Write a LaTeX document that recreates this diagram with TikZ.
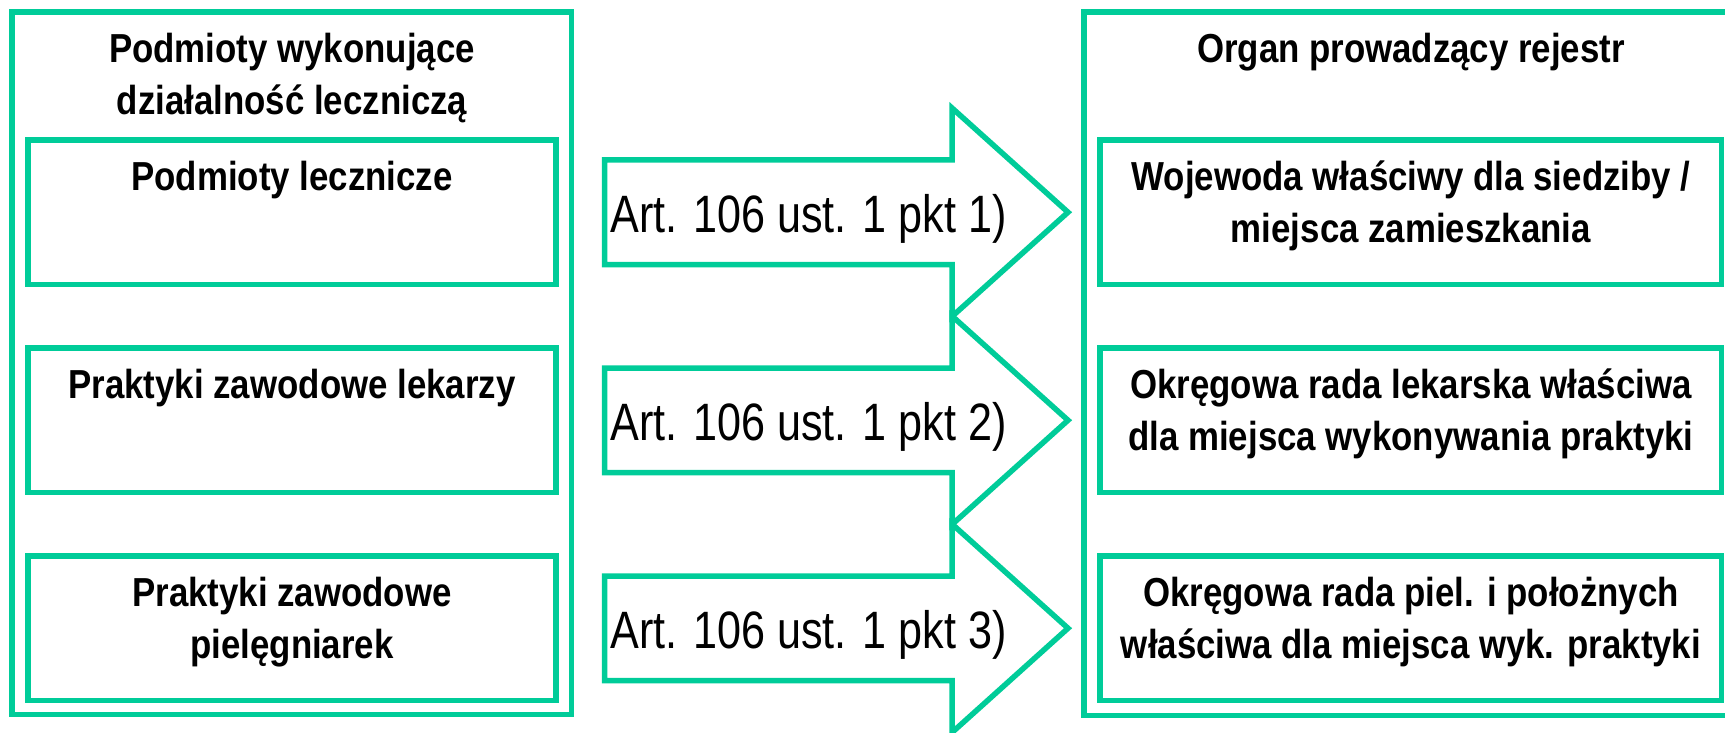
\documentclass[tikz,border=0pt]{standalone}
\usepackage{fontspec}
\setmainfont{Liberation Sans}
\newfontfamily\boldcond{Liberation Sans}[FakeStretch=0.86]
\newfontfamily\regcond{Liberation Sans}[FakeStretch=0.82]
\definecolor{grn}{RGB}{0,204,153}
\begin{document}
\begin{tikzpicture}[x=0.5pt,y=-0.5pt,
  boxline/.style={draw=grn, line width=2.75pt, miter limit=10},
  btext/.style={font=\boldcond\bfseries\fontsize{20.25}{26}\selectfont, align=center, inner sep=0pt, anchor=north},
  atext/.style={font=\regcond\fontsize{26.3}{30}\selectfont, inner sep=0pt, anchor=base west}]
\useasboundingbox (0,0) rectangle (1725,733);
\clip (0,0) rectangle (1725,733);
% outer boxes
\draw[boxline] (12,12) rectangle (571.5,714.5);
\draw[boxline] (1084,12) rectangle (1745,715.5);
% inner boxes
\foreach \k in {0,1,2}{
  \draw[boxline] (28,140+208*\k) rectangle (556,284.5+208*\k);
  \draw[boxline] (1100,140+208*\k) rectangle (1721.5,284.5+208*\k);
  \draw[boxline] (604.5,160+208*\k) -- (952,160+208*\k) -- (952,108+208*\k)
     -- (1068,212.25+208*\k) -- (952,316.5+208*\k) -- (952,264.5+208*\k)
     -- (604.5,264.5+208*\k) -- cycle;
}
% titles
\node[btext] (ltitle) at (292,22) {\rule{0pt}{20pt}Podmioty wykonujące\\działalność leczniczą};
\node[btext] (rtitle) at (1411,22) {\rule{0pt}{20pt}Organ prowadzący rejestr};
% left texts
\node[btext] (l1) at (292,150) {\rule{0pt}{20pt}Podmioty lecznicze};
\node[btext] (l2) at (292,358) {\rule{0pt}{20pt}Praktyki zawodowe lekarzy};
\node[btext] (l3) at (292,566) {\rule{0pt}{20pt}Praktyki zawodowe\\pielęgniarek};
% right texts
\node[btext] (r1) at (1411,150) {\rule{0pt}{20pt}Wojewoda właściwy dla siedziby /\\miejsca zamieszkania};
\node[btext] (r2) at (1411,358) {\rule{0pt}{20pt}Okręgowa rada lekarska właściwa\\dla miejsca wykonywania praktyki};
\node[btext] (r3) at (1411,566) {\rule{0pt}{20pt}Okręgowa rada piel. i położnych\\właściwa dla miejsca wyk. praktyki};
% arrow texts
\node[atext] (a1) at (610,232) {Art. 106 ust. 1 pkt 1)};
\node[atext] (a2) at (610,440) {Art. 106 ust. 1 pkt 2)};
\node[atext] (a3) at (610,648) {Art. 106 ust. 1 pkt 3)};
\end{tikzpicture}
\end{document}
